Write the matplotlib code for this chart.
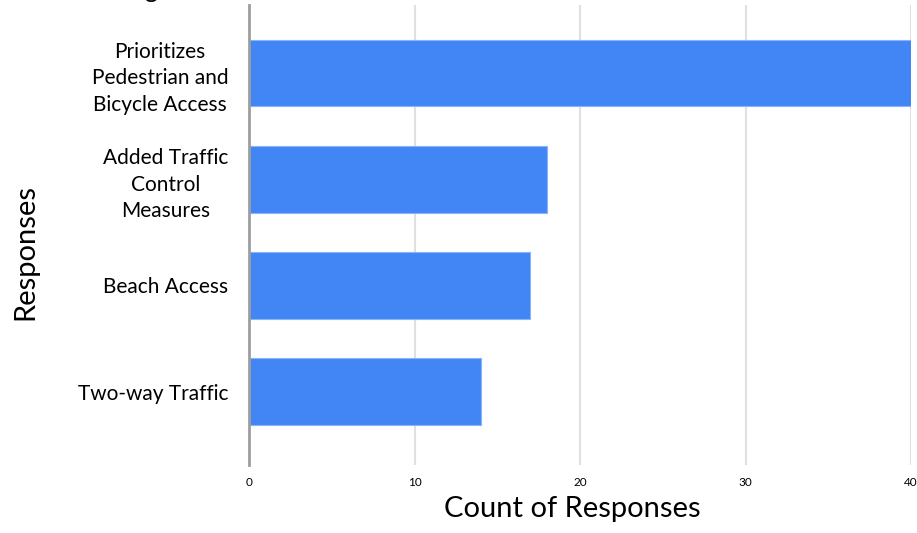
import matplotlib.pyplot as plt

categories = ["Prioritizes\nPedestrian and\nBicycle Access",
              "Added Traffic\nControl\nMeasures",
              "Beach Access",
              "Two-way Traffic"]
counts = [40, 18, 17, 14]
xticks = [0, 10, 20, 30, 40]

plt.rcParams['font.family'] = ['Lato', 'DejaVu Sans']

fig = plt.figure(figsize=(9.17, 5.33), dpi=100)
ax = fig.add_axes([249 / 917, 1 - 465 / 533, (911 - 249) / 917, 460 / 533])

ypos = list(range(len(categories)))
ax.barh(ypos, counts, height=0.63, color="#4285f4", edgecolor="#8ab4f8",
        linewidth=0.8, zorder=3)

ax.set_xlim(0, 40)
ax.set_ylim(3.69, -0.64)
ax.set_yticks(ypos)
ax.set_yticklabels(categories, fontsize=15, linespacing=1.42,
                   ha="right", multialignment="center")
ax.tick_params(axis="y", length=0, pad=15)
ax.set_xticks(xticks)
ax.set_xticklabels([str(t) for t in xticks], fontsize=8.5)
ax.tick_params(axis="x", length=0, pad=9)

ax.grid(axis="x", color="#e0e0e0", linewidth=1.5, zorder=0)
for s in ["top", "right", "bottom"]:
    ax.spines[s].set_visible(False)
ax.spines["left"].set_color("#9e9e9e")
ax.spines["left"].set_linewidth(2)
ax.spines["left"].set_zorder(4)

ax.set_xlabel("Count of Responses", fontsize=21)
ax.xaxis.set_label_coords(0.489, -0.068)
ax.set_ylabel("Responses", fontsize=21)
ax.yaxis.set_label_coords(-0.318, 0.463)

# title sits above the visible area, only its descender shows
fig.text(151 / 917, 1 + 2 / 533, "g", fontsize=18, ha="center", va="baseline")

fig.savefig("out.png", dpi=100)
